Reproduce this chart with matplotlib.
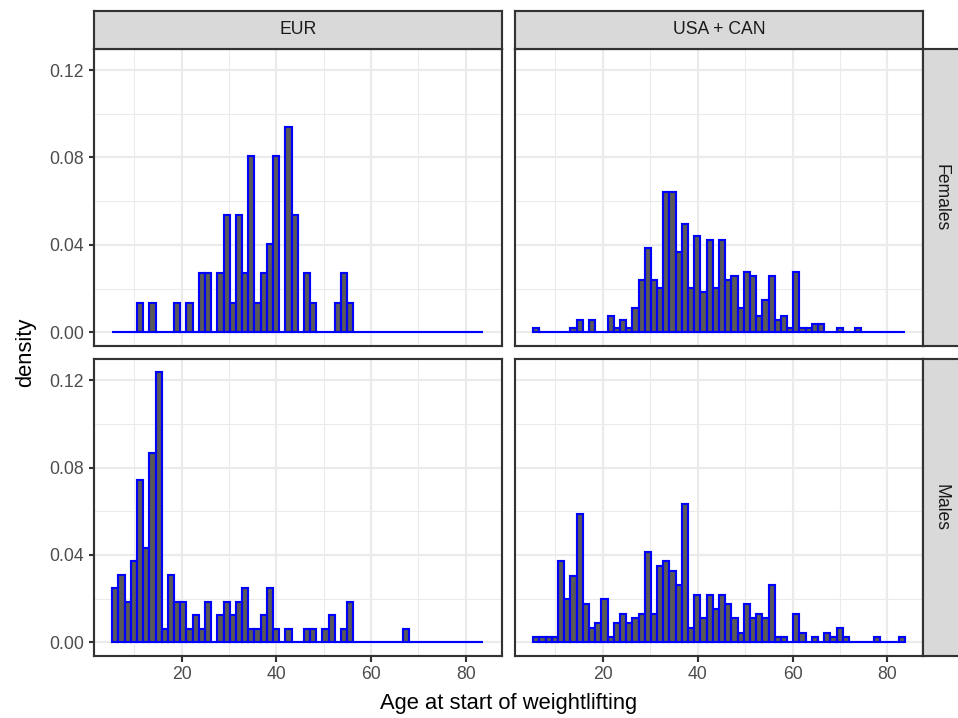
import numpy as np
import matplotlib
matplotlib.use('Agg')
import matplotlib.pyplot as plt

plt.rcParams['font.family'] = ['Liberation Sans', 'DejaVu Sans']

# histogram settings (ggplot: bins = 60 over the pooled age range)
age_min, age_max, n_bins = 6, 83, 60

regions = ['EUR', 'USA + CAN']
sexes = ['Females', 'Males']

# counts per bin
eur_females = [0, 0, 0, 0, 1, 0, 1, 0, 0, 0,
               1, 0, 1, 0, 2, 2, 0, 2, 4, 1,
               4, 2, 6, 1, 2, 3, 6, 0, 7, 4,
               0, 2, 1, 0, 0, 0, 1, 2, 1, 0,
               0, 0, 0, 0, 0, 0, 0, 0, 0, 0,
               0, 0, 0, 0, 0, 0, 0, 0, 0, 0]
usa_females = [1, 0, 0, 0, 0, 0, 1, 3, 0, 3,
               0, 0, 4, 1, 3, 1, 6, 13, 21, 13,
               11, 35, 35, 20, 27, 11, 24, 10, 23, 11,
               23, 13, 14, 6, 15, 14, 4, 8, 14, 3,
               4, 1, 15, 1, 1, 2, 2, 0, 0, 1,
               0, 0, 1, 0, 0, 0, 0, 0, 0, 0]
eur_males = [4, 5, 3, 6, 12, 7, 14, 20, 1, 5,
             3, 3, 1, 2, 1, 3, 0, 2, 3, 2,
             3, 4, 1, 1, 2, 4, 1, 0, 1, 0,
             0, 1, 1, 0, 1, 2, 0, 1, 3, 0,
             0, 0, 0, 0, 0, 0, 0, 1, 0, 0,
             0, 0, 0, 0, 0, 0, 0, 0, 0, 0]
usa_males = [1, 1, 1, 1, 17, 9, 14, 27, 8, 3,
             4, 9, 1, 4, 6, 4, 5, 6, 19, 6,
             16, 17, 15, 12, 29, 3, 10, 5, 10, 7,
             10, 8, 5, 2, 8, 5, 6, 5, 12, 1,
             1, 0, 6, 2, 0, 1, 0, 2, 1, 3,
             1, 0, 0, 0, 0, 1, 0, 0, 0, 1]

panel_counts = [[eur_females, usa_females],
                [eur_males, usa_males]]

binwidth = (age_max - age_min) / (n_bins - 1)
edges = np.linspace(age_min - binwidth / 2, age_max + binwidth / 2, n_bins + 1)

dens = [[np.array(c) / (np.sum(c) * binwidth) for c in row] for row in panel_counts]
ymax = max(d.max() for row in dens for d in row)
span = edges[-1] - edges[0]
xlim = (edges[0] - 0.05 * span, edges[-1] + 0.05 * span)
ylim = (-0.05 * ymax, 1.05 * ymax)

W, H, DPI = 958, 718, 144
fig = plt.figure(figsize=(W / DPI, H / DPI), dpi=DPI)
fig.patch.set_facecolor('white')


def px_rect(x0, y0, x1, y1):
    return [x0 / W, 1 - y1 / H, (x1 - x0) / W, (y1 - y0) / H]


col_x = [(93.7, 501.7), (514.7, 923.3)]
row_y = [(48.7, 345.7), (359.0, 655.7)]
border = '#333333'
lw = 1.07

for i in range(2):
    for j in range(2):
        ax = fig.add_axes(px_rect(col_x[j][0], row_y[i][0], col_x[j][1], row_y[i][1]))
        ax.set_axisbelow(True)
        ax.bar(edges[:-1], dens[i][j], width=binwidth, align='edge',
               facecolor='#595959', edgecolor='blue', linewidth=lw)
        ax.set_xlim(xlim)
        ax.set_ylim(ylim)
        ax.set_xticks([20, 40, 60, 80])
        ax.set_xticks([10, 30, 50, 70], minor=True)
        ax.set_yticks([0, 0.04, 0.08, 0.12])
        ax.set_yticks([0.02, 0.06, 0.10], minor=True)
        ax.set_yticklabels(['0.00', '0.04', '0.08', '0.12'])
        ax.grid(which='major', color='#EBEBEB', linewidth=lw)
        ax.grid(which='minor', color='#EBEBEB', linewidth=lw / 2)
        for s in ax.spines.values():
            s.set_color(border)
            s.set_linewidth(lw)
        ax.tick_params(which='major', length=2.75, width=lw, color=border,
                       labelsize=8.8, labelcolor='#4D4D4D', pad=2.2)
        ax.tick_params(which='minor', length=0)
        if i == 0:
            ax.tick_params(axis='x', bottom=False, labelbottom=False)
        if j == 1:
            ax.tick_params(axis='y', left=False, labelleft=False)

# strips along the top
for j, name in enumerate(regions):
    sax = fig.add_axes(px_rect(col_x[j][0], 11.0, col_x[j][1], row_y[0][0]))
    sax.set_facecolor('#D9D9D9')
    sax.set_xticks([])
    sax.set_yticks([])
    for s in sax.spines.values():
        s.set_color(border)
        s.set_linewidth(lw)
    sax.text(0.5, 0.5, name, ha='center', va='center', fontsize=8.8,
             color='#1A1A1A', transform=sax.transAxes)

# strips on the right (run off the edge of the image, as in the original)
for i, name in enumerate(sexes):
    sax = fig.add_axes(px_rect(col_x[1][1], row_y[i][0], col_x[1][1] + 36.0, row_y[i][1]))
    sax.set_facecolor('#D9D9D9')
    sax.set_xticks([])
    sax.set_yticks([])
    for s in sax.spines.values():
        s.set_color(border)
        s.set_linewidth(lw)
    sax.text(0.5, 0.5, name, ha='center', va='center', fontsize=8.8,
             color='#1A1A1A', rotation=270, transform=sax.transAxes)

fig.text(508.5 / W, 1 - 703 / H, 'Age at start of weightlifting',
         ha='center', va='center', fontsize=11, color='black')
fig.text(26 / W, 1 - 352.2 / H, 'density', ha='center', va='center',
         rotation=90, fontsize=11, color='black')

fig.savefig('out.png', dpi=DPI)
